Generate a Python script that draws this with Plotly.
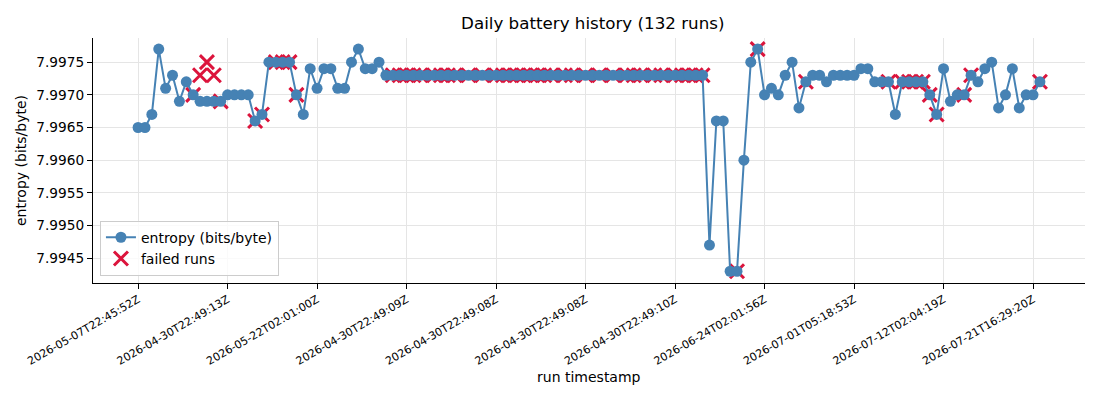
import plotly.graph_objects as go

# entropy per run (run index 0..131)
entropy = [
    7.9965, 7.9965, 7.9967, 7.9977, 7.9971, 7.9973, 7.9969, 7.9972, 7.9970, 7.9969,
    7.9969, 7.9969, 7.9969, 7.9970, 7.9970, 7.9970, 7.9970, 7.9966, 7.9967, 7.9975,
    7.9975, 7.9975, 7.9975, 7.9970, 7.9967, 7.9974, 7.9971, 7.9974, 7.9974, 7.9971,
    7.9971, 7.9975, 7.9977, 7.9974, 7.9974, 7.9975, 7.9973, 7.9973, 7.9973, 7.9973,
    7.9973, 7.9973, 7.9973, 7.9973, 7.9973, 7.9973, 7.9973, 7.9973, 7.9973, 7.9973,
    7.9973, 7.9973, 7.9973, 7.9973, 7.9973, 7.9973, 7.9973, 7.9973, 7.9973, 7.9973,
    7.9973, 7.9973, 7.9973, 7.9973, 7.9973, 7.9973, 7.9973, 7.9973, 7.9973, 7.9973,
    7.9973, 7.9973, 7.9973, 7.9973, 7.9973, 7.9973, 7.9973, 7.9973, 7.9973, 7.9973,
    7.9973, 7.9973, 7.9973, 7.9947, 7.9966, 7.9966, 7.9943, 7.9943, 7.9960, 7.9975,
    7.9977, 7.9970, 7.9971, 7.9970, 7.9973, 7.9975, 7.9968, 7.9972, 7.9973, 7.9973,
    7.9972, 7.9973, 7.9973, 7.9973, 7.9973, 7.9974, 7.9974, 7.9972, 7.9972, 7.9972,
    7.9967, 7.9972, 7.9972, 7.9972, 7.9972, 7.9970, 7.9967, 7.9974, 7.9969, 7.9970,
    7.9970, 7.9973, 7.9972, 7.9974, 7.9975, 7.9968, 7.9970, 7.9974, 7.9968, 7.9970,
    7.9970, 7.9972,
]
runs = list(range(len(entropy)))

# failed runs (index, entropy)
failed_runs = [
    8, 9, 10, 11, 12, 17, 18, 20, 21, 22, 23,
    37, 38, 39, 40, 41, 43, 44, 45, 46, 48, 50, 52, 53, 54, 55, 56, 57, 58, 59,
    60, 62, 63, 65, 67, 69, 71, 72, 73, 75, 76, 78, 79, 80, 81, 82,
    87, 90, 97, 109, 111, 112, 113, 114, 115, 116, 120, 121, 131,
]
failed_entropy = [
    7.9970, 7.9973, 7.9975, 7.9973, 7.9969, 7.9966, 7.9967, 7.9975, 7.9975, 7.9975, 7.9970,
    7.9973, 7.9973, 7.9973, 7.9973, 7.9973, 7.9973, 7.9973, 7.9973, 7.9973, 7.9973,
    7.9973, 7.9973, 7.9973, 7.9973, 7.9973, 7.9973, 7.9973, 7.9973, 7.9973,
    7.9973, 7.9973, 7.9973, 7.9973, 7.9973, 7.9973, 7.9973, 7.9973, 7.9973, 7.9973,
    7.9973, 7.9973, 7.9973, 7.9973, 7.9973, 7.9973,
    7.9943, 7.9977, 7.9972, 7.9972, 7.9972, 7.9972, 7.9972, 7.9972, 7.9970, 7.9967,
    7.9970, 7.9973, 7.9972,
]

tick_runs = [0, 13, 26, 39, 52, 65, 78, 91, 104, 117, 130]
tick_labels = [
    '2026-05-07T22:45:52Z', '2026-04-30T22:49:13Z', '2026-05-22T02:01:00Z',
    '2026-04-30T22:49:09Z', '2026-04-30T22:49:08Z', '2026-04-30T22:49:08Z',
    '2026-04-30T22:49:10Z', '2026-06-24T02:01:56Z', '2026-07-01T05:18:53Z',
    '2026-07-12T02:04:19Z', '2026-07-21T16:29:20Z',
]

fig = go.Figure()

# failed markers go underneath the entropy line
fig.add_trace(go.Scatter(
    x=failed_runs, y=failed_entropy,
    mode='markers', name='failed runs', legendrank=2,
    marker=dict(symbol='x-thin', size=14, color='crimson',
                line=dict(width=3, color='crimson')),
))
fig.add_trace(go.Scatter(
    x=runs, y=entropy,
    mode='lines+markers', name='entropy (bits/byte)', legendrank=1,
    line=dict(color='steelblue', width=2),
    marker=dict(size=11, color='steelblue'),
))

axis_style = dict(
    showgrid=True, gridcolor='#e5e5e5', gridwidth=1,
    showline=True, linecolor='black', linewidth=1.2,
    ticks='outside', ticklen=5, tickcolor='black',
    zeroline=False, mirror=False, automargin=False,
)

# page body has an 8px margin, so the figure is 8px smaller and shifted
fig.update_layout(
    width=1092, height=392,
    margin=dict(l=85, r=15, t=30, b=117),
    paper_bgcolor='white', plot_bgcolor='white',
    font=dict(family='DejaVu Sans', color='black', size=14),
    title=dict(text='Daily battery history (132 runs)', x=0.5355, xanchor='center',
               y=1 - 15 / 392, yanchor='middle', yref='container', font=dict(size=16.7)),
    showlegend=True,
    legend=dict(x=0.007, y=0.03, xanchor='left', yanchor='bottom',
                bgcolor='rgba(255,255,255,0.8)', bordercolor='#cccccc', borderwidth=1,
                font=dict(size=14)),
    xaxis=dict(axis_style, range=[-6.55, 137.55], tickvals=tick_runs, ticktext=tick_labels,
               tickangle=-30, tickfont=dict(size=11)),
    yaxis=dict(axis_style, range=[7.99412, 7.99787], tick0=7.9945, dtick=0.0005,
               tickformat='.4f', tickfont=dict(size=13.7)),
    annotations=[
        dict(text='run timestamp', xref='paper', yref='paper', x=0.5, y=-0.385,
             xanchor='center', yanchor='middle', showarrow=False, font=dict(size=14)),
        dict(text='entropy (bits/byte)', xref='paper', yref='paper', x=-0.073, y=0.5,
             xanchor='center', yanchor='middle', textangle=-90, showarrow=False,
             font=dict(size=14)),
    ],
)

fig.write_html('out.html')
